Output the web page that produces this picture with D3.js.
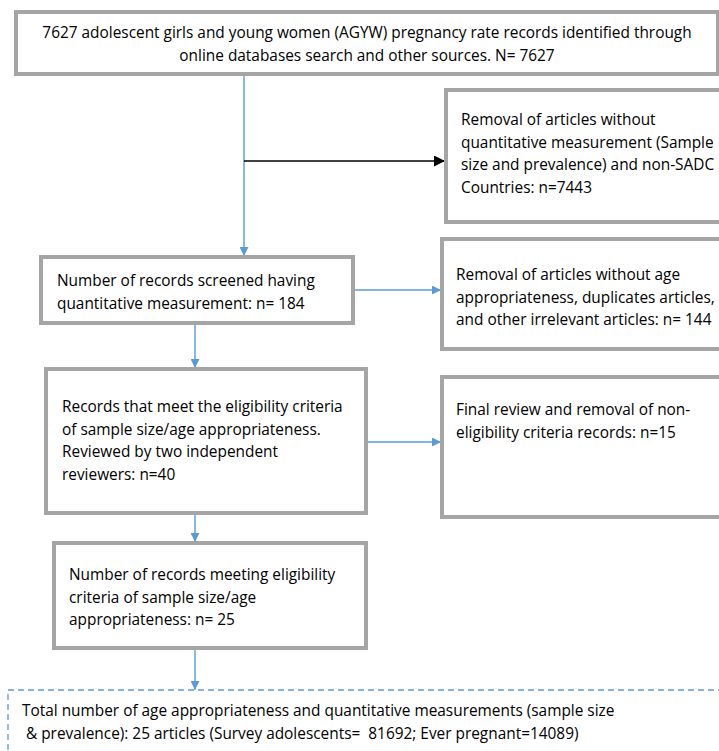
<!DOCTYPE html>
<html>
<head>
<meta charset="utf-8">
<script src="https://cdn.jsdelivr.net/npm/d3@7/dist/d3.min.js"></script>
<style>
	body { margin: 0; background: #fff; }
	text { font-family: "Open Sans", sans-serif; fill: #000; }
</style>
</head>
<body>
<div id="chart"></div>
<script>
// flow diagram content
var mainSteps = [
	["7627 adolescent girls and young women (AGYW) pregnancy rate records identified through",
	 "online databases search and other sources. N= 7627"],
	["Number of records screened having", "quantitative measurement: n= 184"],
	["Records that meet the eligibility criteria", "of sample size/age appropriateness.",
	 "Reviewed by two independent", "reviewers: n=40"],
	["Number of records meeting eligibility", "criteria of sample size/age", "appropriateness: n= 25"]
];
var exclusions = [
	["Removal of articles without", "quantitative measurement (Sample", "size and prevalence) and non-SADC", "Countries: n=7443"],
	["Removal of articles without age", "appropriateness, duplicates articles,", "and other irrelevant articles: n= 144"],
	["Final review and removal of non-", "eligibility criteria records: n=15"]
];
var finalStep = ["Total number of age appropriateness and quantitative measurements (sample size",
	" & prevalence): 25 articles (Survey adolescents=  81692; Ever pregnant=14089)"];

var width = 719, height = 751;
var lineH = 22.5;
var fontSize = 15.4;
var gray = "#a5a5a5", blue = "#5b9bd5";

// box layout (x, y, w, h, text start x, first line y, anchor)
var mainBox = [
	{x: 16, y: 12, w: 702, h: 62, tx: 367, ty: 33, anchor: "middle"},
	{x: 41, y: 257, w: 312, h: 66, tx: 57, ty: 281, anchor: "start"},
	{x: 46, y: 369, w: 320, h: 144, tx: 62, ty: 407, anchor: "start"},
	{x: 54, y: 543, w: 312, h: 105, tx: 69, ty: 575, anchor: "start"}
];
var exclBox = [
	{x: 446, y: 90, w: 290, h: 132, tx: 461, ty: 120, anchor: "start", ay: 161},
	{x: 442, y: 239, w: 290, h: 110, tx: 456, ty: 275, anchor: "start", ay: 290},
	{x: 442, y: 377, w: 290, h: 140, tx: 456, ty: 410, anchor: "start", ay: 442}
];
var finalBox = {x: 8, y: 690, w: 740, h: 90, tx: 22, ty: 711};

var svg = d3.select("#chart").append("svg")
	.attr("width", width)
	.attr("height", height);

var defs = svg.append("defs");
[["arrowBlue", blue, 9], ["arrowBlack", "#000", 11]].forEach(function(m) {
	defs.append("marker")
		.attr("id", m[0])
		.attr("viewBox", "0 0 10 10")
		.attr("refX", 10)
		.attr("refY", 5)
		.attr("markerUnits", "userSpaceOnUse")
		.attr("markerWidth", m[2])
		.attr("markerHeight", m[2])
		.attr("orient", "auto")
		.append("path")
		.attr("d", "M0,0L10,5L0,10Z")
		.attr("fill", m[1]);
});

var drawBox = function(b, lines, dashed) {
	var g = svg.append("g");
	g.append("rect")
		.attr("x", b.x)
		.attr("y", b.y)
		.attr("width", b.w)
		.attr("height", b.h)
		.attr("fill", "#fff")
		.attr("stroke", dashed ? blue : gray)
		.attr("stroke-width", dashed ? 1.3 : 4)
		.attr("stroke-dasharray", dashed ? "6,4" : null);
	g.selectAll("text")
		.data(lines)
		.enter().append("text")
		.attr("x", b.tx)
		.attr("y", function(d, i) { return b.ty + i * lineH; })
		.attr("dy", "0.35em")
		.attr("text-anchor", b.anchor || "start")
		.style("font-size", fontSize + "px")
		.style("white-space", "pre")
		.text(function(d) { return d; });
};

var link = function(x1, y1, x2, y2, color, marker) {
	svg.append("line")
		.attr("x1", x1).attr("y1", y1)
		.attr("x2", x2).attr("y2", y2)
		.attr("stroke", color)
		.attr("stroke-width", 1.4)
		.attr("marker-end", marker ? "url(#" + marker + ")" : null);
};

// vertical connectors
link(244, mainBox[0].y + mainBox[0].h, 244, mainBox[1].y - 1, blue, "arrowBlue");
link(195, mainBox[1].y + mainBox[1].h, 195, mainBox[2].y - 1, blue, "arrowBlue");
link(195, mainBox[2].y + mainBox[2].h, 195, mainBox[3].y - 1, blue, "arrowBlue");
link(195, mainBox[3].y + mainBox[3].h, 195, finalBox.y, blue, "arrowBlue");

// side connectors
link(244, exclBox[0].ay, exclBox[0].x - 1, exclBox[0].ay, "#000", "arrowBlack");
link(mainBox[1].x + mainBox[1].w, exclBox[1].ay, exclBox[1].x - 1, exclBox[1].ay, blue, "arrowBlue");
link(mainBox[2].x + mainBox[2].w, exclBox[2].ay, exclBox[2].x - 1, exclBox[2].ay, blue, "arrowBlue");

mainBox.forEach(function(b, i) { drawBox(b, mainSteps[i]); });
exclBox.forEach(function(b, i) { drawBox(b, exclusions[i]); });
drawBox(finalBox, finalStep, true);
</script>
</body>
</html>
